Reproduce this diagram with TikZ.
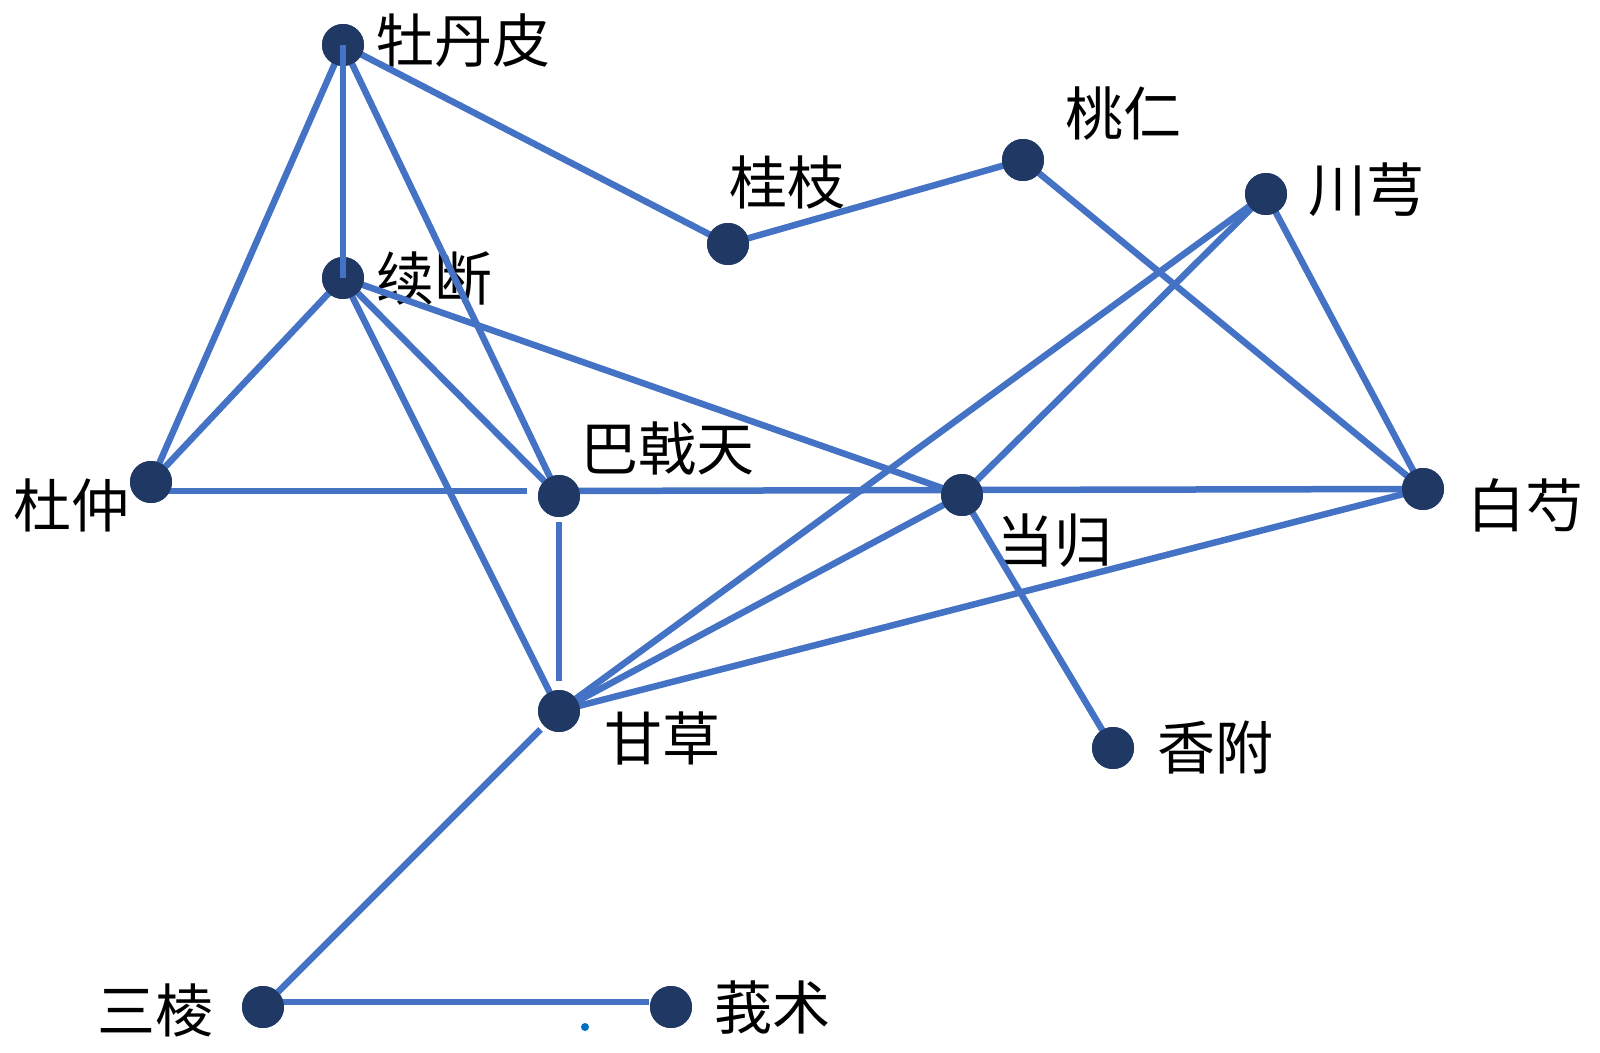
\documentclass[tikz,border=0pt]{standalone}
\usepackage{fontspec}
\newfontfamily\cjk{Noto Sans CJK SC}
\definecolor{edgeblue}{RGB}{68,114,196}
\definecolor{navy}{RGB}{31,56,100}
\definecolor{dotblue}{RGB}{0,112,192}
\begin{document}
\begin{tikzpicture}[x=1pt,y=-1pt,
  herb/.style={circle,fill=navy,minimum size=42pt,inner sep=0pt},
  lbl/.style={anchor=west,inner sep=0pt,font=\cjk\fontsize{58}{62}\selectfont,text=black},
  link/.style={draw=edgeblue,line width=6.5pt}]
\useasboundingbox (0,0) rectangle (1600,1052);
% nodes
\node[herb] (MDP) at (343,45) {};
\node[herb] (GZ) at (728,244) {};
\node[herb] (TR) at (1023,160) {};
\node[herb] (CX) at (1266,194) {};
\node[herb] (XD) at (343,278) {};
\node[herb] (DZ) at (151,482) {};
\node[herb] (BJT) at (559,496) {};
\node[herb] (DG) at (962,495) {};
\node[herb] (BS) at (1423,489) {};
\node[herb] (GC) at (559,711) {};
\node[herb] (XF) at (1113,748) {};
\node[herb] (SL) at (263,1007) {};
\node[herb] (EZ) at (671,1007) {};
\node[circle,fill=dotblue,minimum size=8pt,inner sep=0pt] (dot) at (585,1027) {};
% labels
\node[lbl] (tMDP) at (376,41) {牡丹皮};
\node[lbl] (tGZ) at (729,182) {桂枝};
\node[lbl] (tTR) at (1065,114) {桃仁};
\node[lbl] (tCX) at (1308,190) {川芎};
\node[lbl] (tXD) at (376,279) {续断};
\node[lbl] (tDZ) at (13,505) {杜仲};
\node[lbl] (tBJT) at (580,449) {巴戟天};
\node[lbl] (tDG) at (996,541) {当归};
\node[lbl] (tBS) at (1467,505) {白芍};
\node[lbl] (tGC) at (604,738) {甘草};
\node[lbl] (tXF) at (1157,747) {香附};
\node[lbl] (tSL) at (97,1010) {三棱};
\node[lbl] (tEZ) at (714,1008) {莪术};
% edges
\path[link] (MDP.center) -- (XD.center);
\path[link] (MDP.center) -- (DZ.center);
\path[link] (MDP.center) -- (BJT.center);
\path[link] (MDP.center) -- (GZ.center);
\path[link] (GZ.center) -- (TR.center);
\path[link] (TR.center) -- (BS.center);
\path[link] (CX.center) -- (BS.center);
\path[link] (CX.center) -- (GC.center);
\path[link] (CX.center) -- (DG.center);
\path[link] (XD.center) -- (DZ.center);
\path[link] (XD.center) -- (BJT.center);
\path[link] (XD.center) -- (GC.center);
\path[link] (XD.center) -- (DG.center);
\path[link] ([yshift=-9pt]DZ.center) -- ([xshift=-32pt,yshift=5pt]BJT.center);
\path[link] ([yshift=5pt]BJT.center) -- ([yshift=5pt]DG.center);
\path[link] ([yshift=5pt]DG.center) -- (BS.center);
\path[link,shorten <=26pt,shorten >=30pt] (BJT.center) -- (GC.center);
\path[link] (DG.center) -- (GC.center);
\path[link] (BS.center) -- (GC.center);
\path[link] (DG.center) -- (XF.center);
\path[link,shorten <=26pt] (GC.center) -- (SL.center);
\path[link,shorten >=22pt] ([yshift=5pt]SL.center) -- ([yshift=5pt]EZ.center);
% node discs drawn over the edges
\foreach \n in {MDP,GZ,TR,CX,XD,DZ,BJT,DG,BS,GC,XF,SL,EZ}
  \fill[navy] (\n.center) circle (21pt);
% line ends that show over some discs, as in the reference
\path[link] (MDP.center) -- (MDP.south);
\path[link] (XD.center) -- (XD.north);
\end{tikzpicture}
\end{document}
